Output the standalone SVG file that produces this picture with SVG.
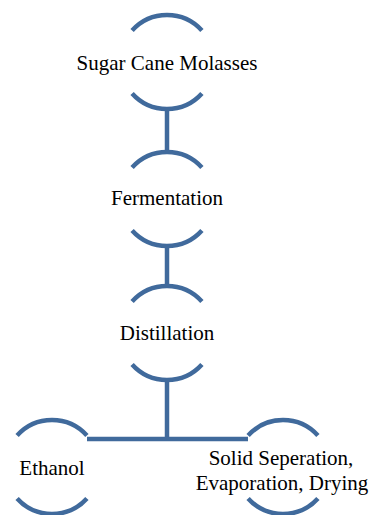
<svg xmlns="http://www.w3.org/2000/svg" width="370" height="515" viewBox="0 0 370 515">
<style>
.arc{fill:none;stroke:#406A9C;stroke-width:4.5}
.con{fill:none;stroke:#406A9C;stroke-width:4.5}
text{font-family:"Liberation Serif","Times New Roman",serif;font-size:21px;fill:#000;text-anchor:middle}
</style>
<rect width="370" height="515" fill="#fff"/>
<g id="connectors">
<line class="con" x1="167" y1="109" x2="167" y2="152"/>
<line class="con" x1="167" y1="246" x2="167" y2="286"/>
<line class="con" x1="167" y1="380" x2="167" y2="439"/>
<line class="con" x1="87" y1="439" x2="248" y2="439"/>
</g>
<g id="node-molasses">
<path class="arc" d="M132.1,30.6 A47,47 0 0 1 201.9,30.6"/>
<path class="arc" d="M132.1,93.4 A47,47 0 0 0 201.9,93.4"/>
<text x="167" y="70">Sugar Cane Molasses</text>
</g>
<g id="node-fermentation">
<path class="arc" d="M132.1,167.6 A47,47 0 0 1 201.9,167.6"/>
<path class="arc" d="M132.1,230.4 A47,47 0 0 0 201.9,230.4"/>
<text x="167" y="205">Fermentation</text>
</g>
<g id="node-distillation">
<path class="arc" d="M132.1,301.6 A47,47 0 0 1 201.9,301.6"/>
<path class="arc" d="M132.1,364.4 A47,47 0 0 0 201.9,364.4"/>
<text x="167" y="340">Distillation</text>
</g>
<g id="node-ethanol">
<path class="arc" d="M17.1,435.6 A47,47 0 0 1 86.9,435.6"/>
<path class="arc" d="M17.1,498.4 A47,47 0 0 0 86.9,498.4"/>
<text x="52" y="475">Ethanol</text>
</g>
<g id="node-solid">
<path class="arc" d="M248.1,435.6 A47,47 0 0 1 317.9,435.6"/>
<path class="arc" d="M248.1,498.4 A47,47 0 0 0 317.9,498.4"/>
<text x="281" y="465">Solid Seperation,</text>
<text x="282" y="490">Evaporation, Drying</text>
</g>
</svg>
